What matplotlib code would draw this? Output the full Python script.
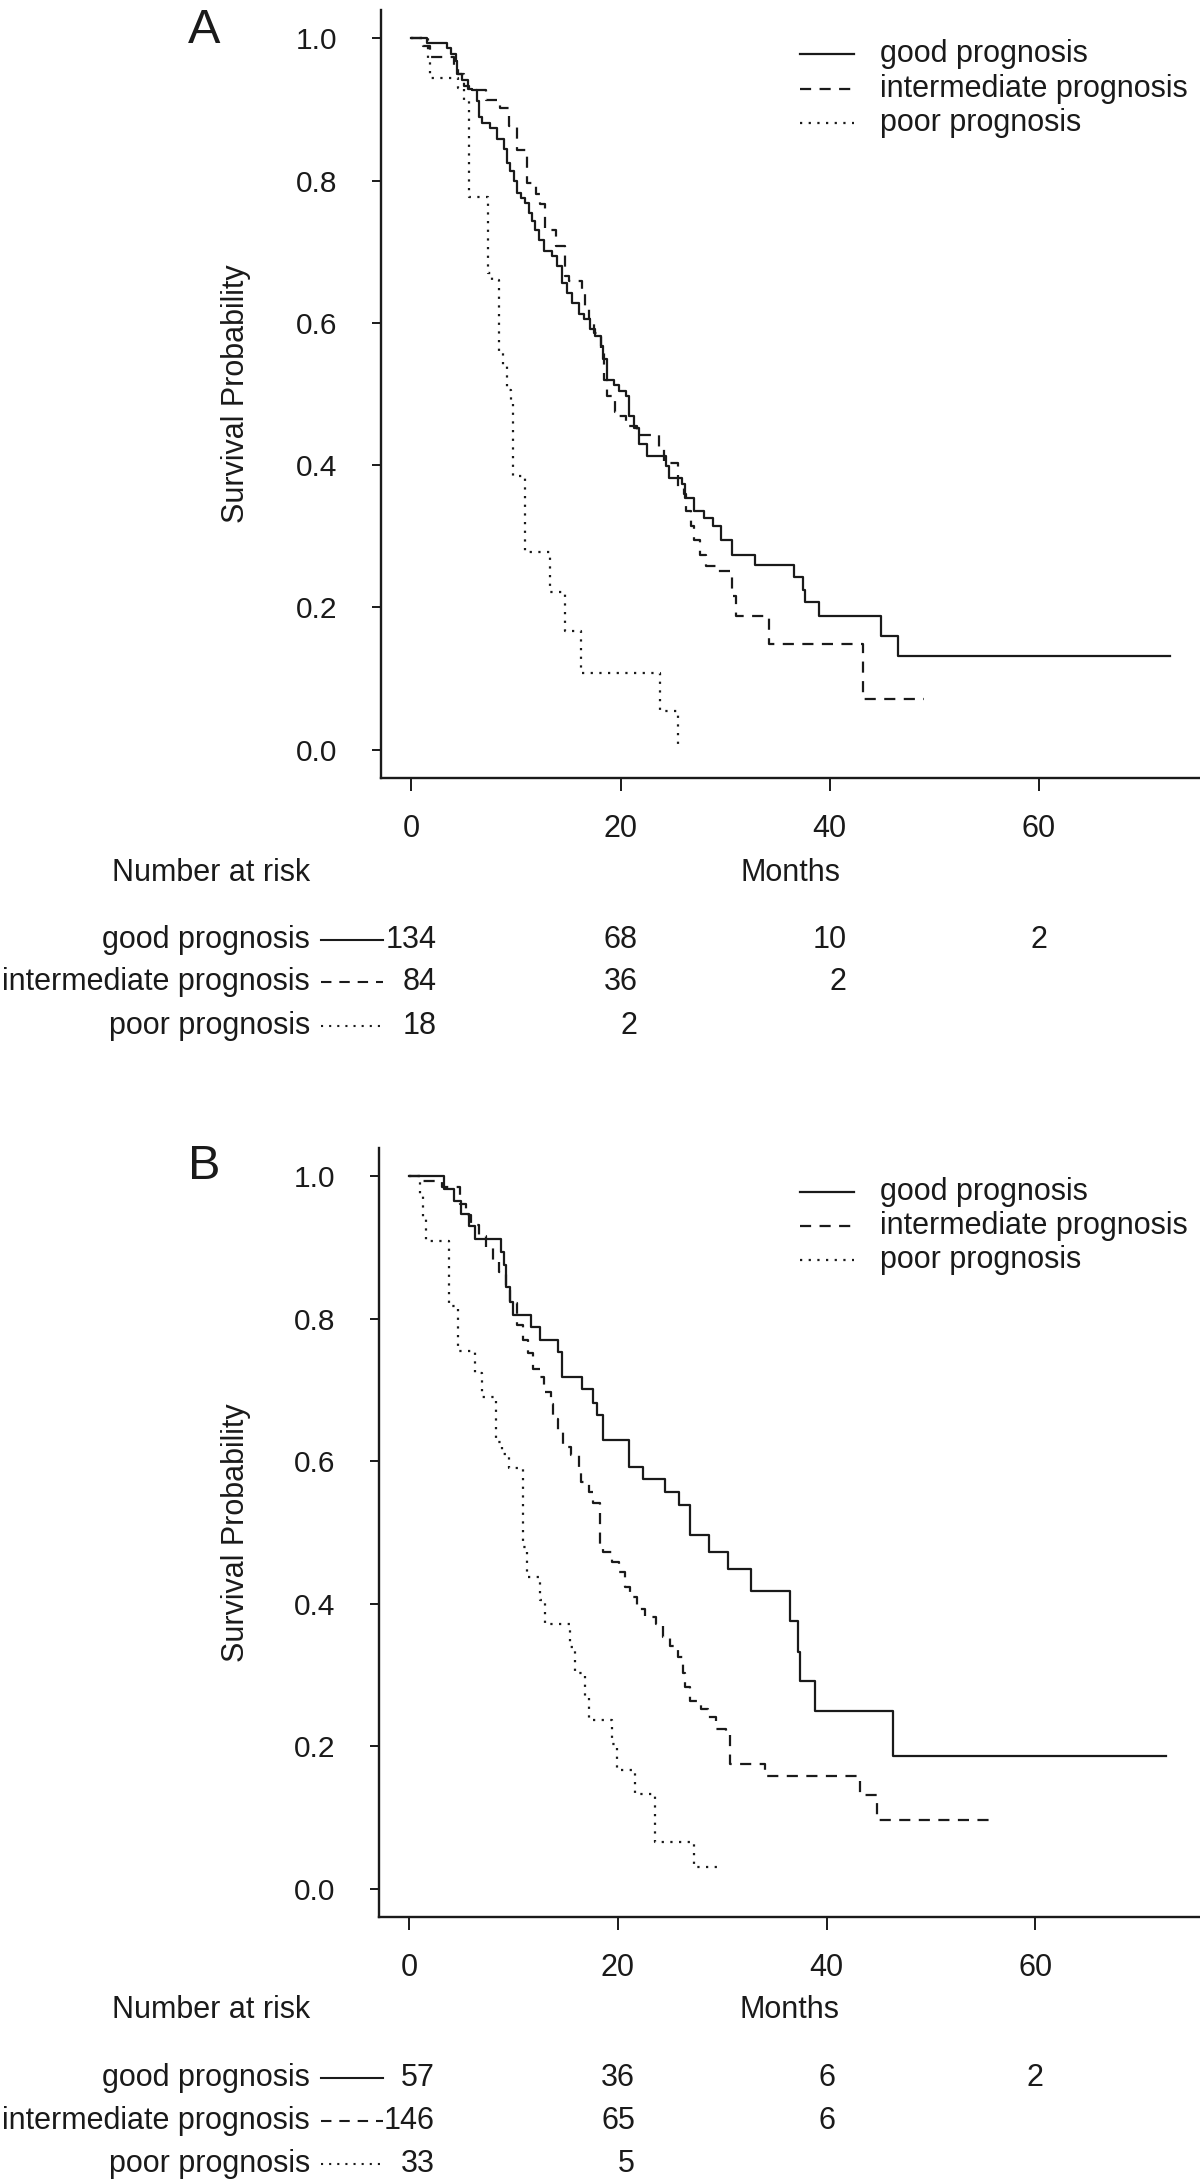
import matplotlib
matplotlib.use("Agg")
import matplotlib.pyplot as plt
from matplotlib import transforms
from matplotlib.lines import Line2D

plt.rcParams["font.family"] = ["Liberation Sans", "DejaVu Sans"]

W, H = 1200, 2180
FS = 22
INK = "#1a1a1a"

groups = ["good prognosis", "intermediate prognosis", "poor prognosis"]
xticks = [0, 20, 40, 60]
yticks = [0.0, 0.2, 0.4, 0.6, 0.8, 1.0]
risk_times = [0, 20, 40, 60]

# ---- panel A: Kaplan-Meier steps (months, survival) ----
a_good_t = [0, 1.5, 3.4, 3.8, 4.3, 4.4, 4.85, 5.4, 5.8, 6.3, 6.45, 6.75, 7.55, 8.15,
            8.85, 9.15, 9.45, 9.8, 10.1, 10.45, 10.9, 11.25, 11.55, 11.85, 12.2, 12.65,
            13.45, 13.95, 14.4, 14.9, 15.4, 16.0, 16.5, 17.1, 17.6, 18.1, 18.35, 18.7,
            19.4, 19.85, 20.5, 20.8, 21.3, 21.75, 22.55, 24.3, 24.65, 25.9, 26.2, 27.0,
            28.0, 28.8, 29.6, 30.7, 32.9, 36.6, 37.4, 37.6, 39.0, 44.9, 46.5, 72.5]
a_good_s = [1.0, 0.994, 0.986, 0.978, 0.968, 0.95, 0.942, 0.929, 0.927, 0.912, 0.889,
            0.881, 0.874, 0.858, 0.844, 0.825, 0.814, 0.799, 0.783, 0.776, 0.769, 0.755,
            0.743, 0.731, 0.717, 0.701, 0.694, 0.68, 0.656, 0.642, 0.628, 0.612, 0.605,
            0.591, 0.581, 0.567, 0.549, 0.52, 0.513, 0.504, 0.497, 0.469, 0.452, 0.429,
            0.413, 0.399, 0.382, 0.373, 0.354, 0.335, 0.326, 0.314, 0.295, 0.274, 0.26,
            0.243, 0.225, 0.207, 0.188, 0.159, 0.132, 0.132]

a_inter_t = [0, 1.1, 1.75, 4.1, 4.5, 5.0, 5.5, 7.1, 8.5, 9.3, 10.1, 11.1, 11.9, 12.3,
             12.8, 13.8, 14.7, 15.05, 16.3, 16.6, 17.0, 17.45, 18.1, 18.4, 18.7, 19.5,
             19.8, 20.5, 21.6, 23.7, 24.2, 25.5, 26.1, 26.3, 26.7, 27.0, 27.6, 28.2,
             29.1, 30.7, 31.0, 34.2, 43.2, 49.0]
a_inter_s = [1.0, 0.989, 0.974, 0.96, 0.95, 0.933, 0.927, 0.914, 0.902, 0.877, 0.843,
             0.797, 0.781, 0.767, 0.731, 0.708, 0.666, 0.659, 0.647, 0.619, 0.605, 0.586,
             0.563, 0.52, 0.497, 0.474, 0.469, 0.455, 0.443, 0.424, 0.403, 0.368, 0.359,
             0.335, 0.314, 0.295, 0.274, 0.258, 0.251, 0.216, 0.1875, 0.148, 0.0713, 0.0713]

a_poor_t = [0, 1.6, 1.75, 4.5, 5.0, 5.5, 7.3, 7.7, 8.4, 8.8, 9.1, 9.5, 9.75, 10.9,
            13.3, 14.7, 16.2, 23.8, 25.5]
a_poor_s = [1.0, 0.97, 0.944, 0.93, 0.914, 0.777, 0.67, 0.661, 0.557, 0.539, 0.506,
            0.492, 0.384, 0.278, 0.222, 0.167, 0.108, 0.054, 0.0]

a_risk = [["134", "68", "10", "2"], ["84", "36", "2"], ["18", "2"]]

# ---- panel B ----
b_good_t = [0, 3.35, 4.3, 4.95, 5.75, 6.3, 8.75, 9.05, 9.3, 9.65, 9.95, 11.7, 12.5,
            14.3, 14.6, 16.6, 17.6, 18.0, 18.6, 21.1, 22.4, 24.55, 25.9, 26.9, 28.7,
            30.6, 32.8, 36.5, 37.3, 37.45, 38.9, 46.4, 72.55]
b_good_s = [1.0, 0.983, 0.966, 0.947, 0.93, 0.912, 0.894, 0.876, 0.845, 0.824, 0.806,
            0.788, 0.77, 0.754, 0.718, 0.701, 0.682, 0.665, 0.63, 0.592, 0.575, 0.557,
            0.538, 0.496, 0.473, 0.449, 0.418, 0.376, 0.332, 0.291, 0.249, 0.186, 0.186]

b_inter_t = [0, 1.0, 3.1, 4.9, 5.4, 5.9, 6.7, 7.4, 8.05, 8.6, 9.25, 9.65, 10.35, 10.9,
             11.4, 11.9, 12.5, 12.9, 13.6, 13.8, 14.3, 14.7, 15.5, 16.3, 16.5, 17.2,
             17.65, 18.25, 18.6, 19.4, 20.1, 20.7, 21.15, 21.8, 22.6, 23.7, 24.35, 25.0,
             25.8, 26.2, 26.4, 26.9, 28.0, 28.65, 29.45, 30.4, 30.7, 34.1, 43.2, 44.8, 55.9]
b_inter_s = [1.0, 0.994, 0.985, 0.962, 0.946, 0.932, 0.916, 0.899, 0.883, 0.866, 0.848,
             0.822, 0.791, 0.77, 0.752, 0.73, 0.719, 0.698, 0.681, 0.66, 0.641, 0.62,
             0.609, 0.592, 0.571, 0.557, 0.541, 0.48, 0.473, 0.459, 0.445, 0.423, 0.41,
             0.393, 0.381, 0.372, 0.353, 0.341, 0.325, 0.302, 0.283, 0.264, 0.2525, 0.241,
             0.224, 0.215, 0.175, 0.158, 0.131, 0.0965, 0.0965]

b_poor_t = [0, 1.0, 1.3, 1.65, 3.85, 4.7, 6.3, 6.95, 8.3, 8.9, 9.6, 10.95, 11.3, 12.5,
            13.0, 15.4, 15.9, 16.85, 17.2, 19.4, 19.9, 21.6, 23.6, 27.3, 29.6]
b_poor_s = [1.0, 0.975, 0.94, 0.909, 0.818, 0.755, 0.724, 0.69, 0.627, 0.61, 0.59, 0.48,
            0.437, 0.405, 0.372, 0.339, 0.302, 0.27, 0.237, 0.203, 0.167, 0.133, 0.065,
            0.03, 0.03]

b_risk = [["57", "36", "6", "2"], ["146", "65", "6"], ["33", "5"]]

LINESTYLES = ["-", (0, (5, 3.8)), (0, (1, 2.9))]
LW = 1.6


def fx(px):
    return px / W


def fy(py):
    return 1 - py / H


def draw_panel(fig, box, letter, letter_base, curves, risk, xmax, legend_y,
               header_y, row_ys):
    left, top, right, bottom = box
    ax = fig.add_axes([fx(left), fy(bottom), (right - left) / W, (bottom - top) / H])

    for (t, s), ls in zip(curves, LINESTYLES):
        ax.step(t, s, where="post", color=INK, lw=LW, linestyle=ls)

    ax.set_xlim(-2.9, xmax)
    ax.set_ylim(-0.04, 1.04)
    for side in ["top", "right"]:
        ax.spines[side].set_visible(False)
    for side in ["left", "bottom"]:
        ax.spines[side].set_linewidth(1.7)
        ax.spines[side].set_color(INK)
        ax.spines[side].set_clip_on(False)

    ax.set_xticks(xticks)
    ax.set_xticklabels([str(v) for v in xticks])
    ax.set_yticks(yticks)
    ax.set_yticklabels([f"{v:.1f}" for v in yticks])
    ax.tick_params(axis="y", length=6.5, width=1.4, pad=25, labelsize=FS - 0.5,
                   color=INK, labelcolor=INK)
    ax.tick_params(axis="x", length=9, width=1.4, pad=17, labelsize=FS,
                   color=INK, labelcolor=INK)

    ax.text((236 - left) / (right - left), 0.5, "Survival Probability",
            transform=ax.transAxes, rotation=90, ha="center", va="center",
            fontsize=FS, color=INK)

    fig.text(fx(204), fy(letter_base), letter, ha="center", va="baseline",
             fontsize=35, color=INK)

    # legend in the upper right
    for name, ls, yy in zip(groups, LINESTYLES, legend_y):
        fig.add_artist(Line2D([fx(800), fx(854)], [fy(yy), fy(yy)], color=INK,
                              lw=LW, linestyle=ls))
        fig.text(fx(880), fy(yy), name, ha="left", va="center", fontsize=FS,
                 color=INK)

    # number at risk table
    below = transforms.blended_transform_factory(ax.transAxes, fig.transFigure)
    ax.text(0.5, fy(header_y), "Months", transform=below, ha="center",
            va="center", fontsize=FS, color=INK)
    fig.text(fx(310), fy(header_y), "Number at risk", ha="right", va="center",
             fontsize=FS, color=INK)

    at_time = transforms.blended_transform_factory(ax.transData, fig.transFigure)
    ncol = max(len(r) for r in risk)
    widths = [max(len(r[j]) for r in risk if j < len(r)) for j in range(ncol)]
    for name, ls, counts, yy in zip(groups, LINESTYLES, risk, row_ys):
        fig.text(fx(310), fy(yy), name, ha="right", va="center", fontsize=FS,
                 color=INK)
        fig.add_artist(Line2D([fx(321), fx(383)], [fy(yy), fy(yy)], color=INK,
                              lw=1.5, linestyle=ls))
        for j, n in enumerate(counts):
            off = widths[j] * 0.556 * FS / 2
            ax.annotate(n, xy=(risk_times[j], fy(yy)), xycoords=at_time,
                        xytext=(off, 0), textcoords="offset points", ha="right",
                        va="center", fontsize=FS, color=INK, annotation_clip=False)
    return ax


fig = plt.figure(figsize=(W / 100, H / 100), dpi=100)

draw_panel(fig, (381, 10, 1200, 778), "A", 43,
           [(a_good_t, a_good_s), (a_inter_t, a_inter_s), (a_poor_t, a_poor_s)],
           a_risk, 75.4, [54, 89, 123], 873, [940, 982, 1026])

draw_panel(fig, (379, 1148, 1200, 1917), "B", 1179,
           [(b_good_t, b_good_s), (b_inter_t, b_inter_s), (b_poor_t, b_poor_s)],
           b_risk, 75.8, [1192, 1226, 1260], 2010, [2078, 2121, 2164])

fig.savefig("out.png", dpi=100, facecolor="white")
